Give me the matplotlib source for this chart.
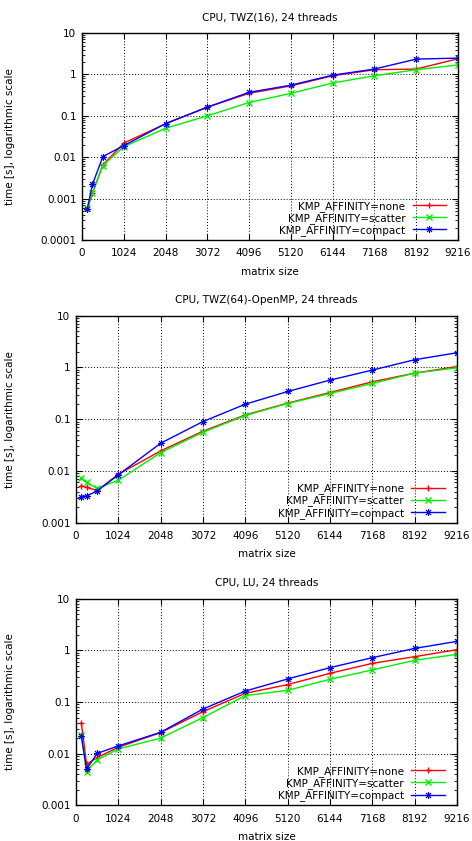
"""
Timing of TWZ/LU kernels on CPU for different KMP_AFFINITY settings (log scale).
"""
import matplotlib
matplotlib.use("Agg")
import matplotlib.pyplot as plt
from matplotlib.ticker import LogLocator, NullFormatter, FixedLocator


matrix_sizes = [128, 256, 512, 1024, 2048, 3072, 4096, 5120, 6144, 7168, 8192, 9216]
x_ticks = [0, 1024, 2048, 3072, 4096, 5120, 6144, 7168, 8192, 9216]

twz16_none = [0.00055, 0.00135, 0.0065, 0.022, 0.064, 0.162, 0.35, 0.53, 0.93, 1.3, 1.35, 2.4]
twz16_scatter = [0.0006, 0.0014, 0.0063, 0.018, 0.050, 0.10, 0.21, 0.35, 0.62, 0.93, 1.3, 1.7]
twz16_compact = [0.00056, 0.0022, 0.0104, 0.019, 0.065, 0.162, 0.37, 0.55, 0.96, 1.35, 2.35, 2.48]

twz64_none = [0.0052, 0.0048, 0.0042, 0.0086, 0.0244, 0.0586, 0.121, 0.204, 0.328, 0.528, 0.777, 1.04]
twz64_scatter = [0.0072, 0.006, 0.0046, 0.0066, 0.0226, 0.056, 0.118, 0.201, 0.314, 0.49, 0.777, 0.985]
twz64_compact = [0.0032, 0.0033, 0.0041, 0.0084, 0.0343, 0.090, 0.195, 0.343, 0.569, 0.888, 1.41, 1.92]

lu_none = [0.040, 0.0062, 0.0084, 0.0133, 0.0255, 0.065, 0.147, 0.217, 0.359, 0.56, 0.754, 1.03]
lu_scatter = [0.023, 0.0045, 0.0076, 0.0123, 0.020, 0.050, 0.133, 0.168, 0.275, 0.417, 0.64, 0.837]
lu_compact = [0.022, 0.0050, 0.0101, 0.0141, 0.0259, 0.073, 0.163, 0.279, 0.462, 0.721, 1.09, 1.49]

series_labels = ["KMP_AFFINITY=none", "KMP_AFFINITY=scatter", "KMP_AFFINITY=compact"]

panels = [
    ("CPU, TWZ(16), 24 threads", (1e-4, 10), [twz16_none, twz16_scatter, twz16_compact]),
    ("CPU, TWZ(64)-OpenMP, 24 threads", (1e-3, 10), [twz64_none, twz64_scatter, twz64_compact]),
    ("CPU, LU, 24 threads", (1e-3, 10), [lu_none, lu_scatter, lu_compact]),
]

# gnuplot-like point types: plus, cross, asterisk
styles = [
    {"color": "#ff0000", "marker": "+", "markersize": 5, "mew": 1.0},
    {"color": "#00f000", "marker": "x", "markersize": 4, "mew": 1.0},
    {"color": "#0000ff", "marker": (8, 2, 0), "markersize": 5, "mew": 0.7},
]

# axes rectangles in figure fractions (left, bottom, width, height)
rects = [
    (0.1737, 0.7146, 0.7966, 0.2461),
    (0.161, 0.3785, 0.807, 0.2461),
    (0.161, 0.0425, 0.807, 0.2456),
]

FS = 7.5
plt.rcParams["font.family"] = ["DejaVu Sans"]
plt.rcParams["font.size"] = FS

fig = plt.figure(figsize=(4.72, 8.41), dpi=100)
W = 472

for (title, ylim, series), rect in zip(panels, rects):
    ax = fig.add_axes(rect)
    for vals, label, st in zip(series, series_labels, styles):
        ax.plot(matrix_sizes, vals, color=st["color"], marker=st["marker"],
                markersize=st["markersize"], markeredgewidth=st["mew"],
                linewidth=1.0, label=label)

    ax.set_yscale("log")
    ax.set_ylim(*ylim)
    ax.set_xlim(0, 9216)
    ax.xaxis.set_major_locator(FixedLocator(x_ticks))
    ax.set_xticklabels([str(t) for t in x_ticks])
    ax.yaxis.set_major_locator(LogLocator(base=10, numticks=10))
    ax.yaxis.set_minor_locator(LogLocator(base=10, subs=range(2, 10), numticks=20))
    ax.yaxis.set_minor_formatter(NullFormatter())
    ax.yaxis.set_major_formatter(plt.FuncFormatter(lambda v, p: "%g" % v))

    ax.tick_params(which="both", direction="in", top=True, right=True,
                   color="black", labelsize=FS)
    ax.tick_params(axis="x", pad=6)
    ax.tick_params(axis="y", pad=4)
    ax.tick_params(which="major", length=4, width=0.8)
    ax.tick_params(which="minor", length=2, width=0.6)
    for sp in ax.spines.values():
        sp.set_linewidth(1.0)

    ax.grid(True, which="major", color="black", linestyle=(0, (1, 2)), linewidth=0.7)

    ax.set_title(title, fontsize=FS, pad=9)
    ax.set_xlabel("matrix size", labelpad=6)
    ax.set_ylabel("time [s], logarithmic scale")
    left_px = rect[0] * W
    ax.yaxis.set_label_coords((15 - left_px) / (rect[2] * W), 0.5)

    ax.legend(loc="lower right", bbox_to_anchor=(0.968, 0.02), frameon=False,
              markerfirst=False, handlelength=3.2, handletextpad=0.7,
              labelspacing=0.12, borderpad=0.0, borderaxespad=0.0, fontsize=FS)

fig.savefig("out.png", dpi=100)
plt.close(fig)
